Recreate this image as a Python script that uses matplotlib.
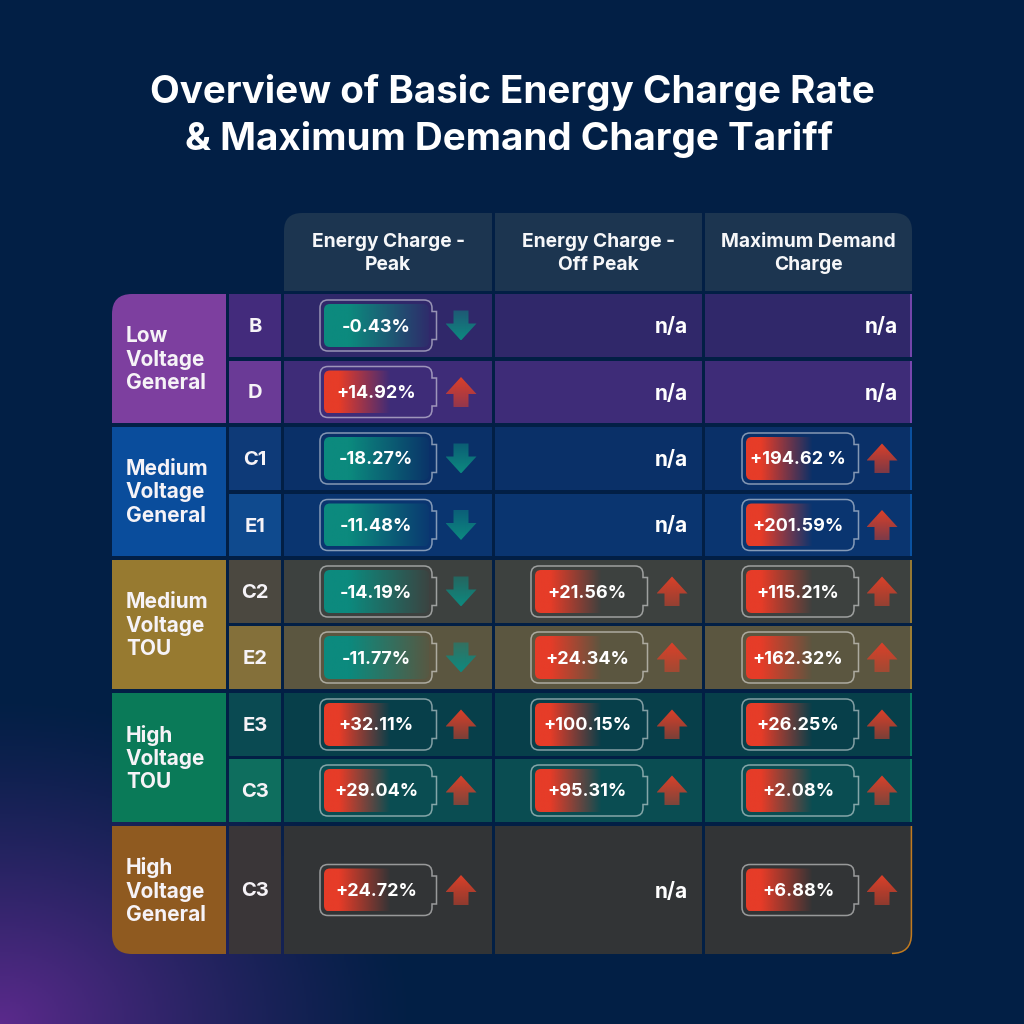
#!/usr/bin/env python3
import numpy as np
import matplotlib
matplotlib.use("Agg")  # headless
import matplotlib.pyplot as plt
from matplotlib.patches import PathPatch
from matplotlib.path import Path

# ---- data ----
title_lines = ["Overview of Basic Energy Charge Rate", "& Maximum Demand Charge Tariff"]
headers = ["Energy Charge -\nPeak", "Energy Charge -\nOff Peak", "Maximum Demand\nCharge"]
groups = ["Low\nVoltage\nGeneral", "Medium\nVoltage\nGeneral", "Medium\nVoltage\nTOU", "High\nVoltage\nTOU", "High\nVoltage\nGeneral"]
group_spans = [2, 2, 2, 2, 1]
tariffs = ["B", "D", "C1", "E1", "C2", "E2", "E3", "C3", "C3"]
peak = ["-0.43%", "+14.92%", "-18.27%", "-11.48%", "-14.19%", "-11.77%", "+32.11%", "+29.04%", "+24.72%"]
off_peak = ["n/a", "n/a", "n/a", "n/a", "+21.56%", "+24.34%", "+100.15%", "+95.31%", "n/a"]
demand = ["n/a", "n/a", "+194.62 %", "+201.59%", "+115.21%", "+162.32%", "+26.25%", "+2.08%", "+6.88%"]

# ---- colours ----
BG = "#021f45"
HEADER = "#1c3550"
GROUP_COL = ["#7d3f9f", "#0a4d9c", "#977a30", "#0a7a58", "#8f5a20"]
TYPE_COL = ["#432b7c", "#6a3a96", "#0e3a78", "#0f4a8e", "#4b4840", "#84703a", "#0a4a52", "#0e6e5e", "#3a3638"]
CELL_COL = ["#30286a", "#3e2c78", "#0a3068", "#0a3570", "#3d413f", "#5b5640", "#073f4a", "#0a4d52", "#323436"]
EDGE_COL = ["#8a4fc0", "#8a4fc0", "#0a5bb0", "#0a5bb0", "#b08a30", "#b08a30", "#0a8a68", "#0a8a68", "#c07a20"]
RED = "#e63c28"
TEAL = "#0c8a7e"
WHITE = "#ffffff"
FONT = "Inter"

# ---- layout (pixels) ----
row_top = [294, 361, 427, 494, 560, 626, 693, 759, 826]
row_bot = [357, 423, 490, 556, 623, 689, 756, 822, 954]
col_x = [(284, 492), (495, 702), (705, 912)]
batt_x = [320, 531, 742]
arrow_x = [461, 672, 882]
na_x = [688, 688, 898]
TEXT_DY = 1.5  # Inter sits a bit high with va=center

fig = plt.figure(figsize=(10.24, 10.24), dpi=100)
ax = fig.add_axes([0, 0, 1, 1])
ax.set_xlim(0, 1024)
ax.set_ylim(1024, 0)
ax.axis("off")


def rgba_grad(color, alpha, horizontal=True):
    c = matplotlib.colors.to_rgb(color)
    n = len(alpha)
    img = np.zeros((1, n, 4) if horizontal else (n, 1, 4))
    img[..., 0], img[..., 1], img[..., 2] = c
    img[..., 3] = alpha if horizontal else alpha[:, None]
    return img


def round_path(x0, y0, x1, y1, tl=0, tr=0, br=0, bl=0):
    v = [(x0 + tl, y0), (x1 - tr, y0), (x1, y0), (x1, y0 + tr), (x1, y1 - br), (x1, y1), (x1 - br, y1),
         (x0 + bl, y1), (x0, y1), (x0, y1 - bl), (x0, y0 + tl), (x0, y0), (x0 + tl, y0), (x0 + tl, y0)]
    c = [Path.MOVETO, Path.LINETO, Path.CURVE3, Path.CURVE3, Path.LINETO, Path.CURVE3, Path.CURVE3,
         Path.LINETO, Path.CURVE3, Path.CURVE3, Path.LINETO, Path.CURVE3, Path.CURVE3, Path.CLOSEPOLY]
    return Path(v, c)


def box(x0, y0, x1, y1, color, **corners):
    p = PathPatch(round_path(x0, y0, x1, y1, **corners), fc=color, ec="none", lw=0)
    ax.add_patch(p)
    return p


def battery(x, cy, label):
    up = label.startswith("+")
    top, bot = cy - 25.5, cy + 25.5
    right = x + 112
    # outline with the little nub on the right
    v = [(x + 8, top), (right - 8, top), (right, top), (right, top + 8), (right, cy - 14), (right + 4.5, cy - 14),
         (right + 4.5, cy + 14), (right, cy + 14), (right, bot - 8), (right, bot), (right - 8, bot),
         (x + 8, bot), (x, bot), (x, bot - 8), (x, top + 8), (x, top), (x + 8, top), (x + 8, top)]
    c = [Path.MOVETO, Path.LINETO, Path.CURVE3, Path.CURVE3, Path.LINETO, Path.LINETO, Path.LINETO, Path.LINETO,
         Path.LINETO, Path.CURVE3, Path.CURVE3, Path.LINETO, Path.CURVE3, Path.CURVE3, Path.LINETO, Path.CURVE3,
         Path.CURVE3, Path.CLOSEPOLY]
    ax.add_patch(PathPatch(Path(v, c), fc="none", ec=(1, 1, 1, 0.5), lw=1.1))
    # fill fades out to the right, red fades sooner than teal
    x0, x1 = x + 4, right - 3
    t = np.linspace(0, 1, 200)
    if up:
        alpha = np.clip(1.3 - 2.05 * t, 0, 1)
        img = rgba_grad(RED, alpha)
    else:
        alpha = np.clip(1.3 - 1.25 * t, 0, 1)
        img = rgba_grad(TEAL, alpha)
    im = ax.imshow(img, extent=(x0, x1, bot - 4, top + 4), aspect="auto", zorder=2)
    clip = PathPatch(round_path(x0, top + 4, x1, bot - 4, tl=6, tr=6, br=6, bl=6), fc="none", ec="none")
    ax.add_patch(clip)
    im.set_clip_path(clip)
    ax.text(x + 56, cy + TEXT_DY, label, color=WHITE, fontsize=13, fontweight="bold", family=FONT,
            ha="center", va="center", zorder=3)


def arrow(cx, cy, up):
    sgn = -1 if up else 1
    w, sw = 15.5, 7.5
    # tip, wing, notch, foot ...
    wing = cy - sgn * 2
    ys = [cy + sgn * 15, wing, wing, cy - sgn * 15, cy - sgn * 15, wing, wing]
    xs = [cx, cx + w, cx + sw, cx + sw, cx - sw, cx - sw, cx - w]
    clip = plt.Polygon(list(zip(xs, ys)), fc="none", ec="none")
    ax.add_patch(clip)
    t = np.linspace(0, 1, 60)
    if up:
        img = rgba_grad("#dc4029", np.clip(1.0 - 0.45 * t, 0, 1), horizontal=False)
    else:
        img = rgba_grad("#0d8a80", np.clip(0.5 + 0.5 * t, 0, 1), horizontal=False)
    im = ax.imshow(img, extent=(cx - w, cx + w, cy + 15, cy - 15), aspect="auto", zorder=2)
    im.set_clip_path(clip)


# background with the purple glow in the bottom left corner
yy, xx = np.mgrid[0:1024:512j, 0:1024:512j]
glow = np.clip(1 - np.hypot(xx / 420, (1024 - yy) / 330), 0, 1) ** 1.3
base = np.array(matplotlib.colors.to_rgb(BG))
purple = np.array(matplotlib.colors.to_rgb("#5b2a8c"))
bg_img = base[None, None, :] + (purple - base)[None, None, :] * glow[..., None]
ax.imshow(bg_img, extent=(0, 1024, 1024, 0), aspect="auto", zorder=0)

# title
for line, x, y in zip(title_lines, [512.5, 509], [92.5, 139.5]):
    ax.text(x, y, line, color=WHITE, fontsize=27.8, fontweight="bold", family=FONT, ha="center", va="center")

# header row
for i, ((x0, x1), label) in enumerate(zip(col_x, headers)):
    box(x0, 213, x1, 291, HEADER, tl=18 if i == 0 else 0, tr=18 if i == 2 else 0)
    ax.text((x0 + x1) / 2, 253.5, label, color="#f6f7f9", fontsize=13.8, fontweight="bold", family=FONT,
            ha="center", va="center", linespacing=1.42)

# group column
r = 0
for i, (name, span) in enumerate(zip(groups, group_spans)):
    top, bot = row_top[r], row_bot[r + span - 1]
    box(112, top, 226, bot, GROUP_COL[i], tl=20 if i == 0 else 0, bl=20 if i == len(groups) - 1 else 0)
    ax.text(126, (top + bot) / 2 + 1, name, color="#f6f3f7", fontsize=15, fontweight="bold", family=FONT,
            ha="left", va="center", linespacing=1.2)
    r += span

# tariff rows
columns = [peak, off_peak, demand]
for i, tariff in enumerate(tariffs):
    top, bot = row_top[i], row_bot[i]
    cy = (top + bot) / 2
    box(229, top, 281, bot, TYPE_COL[i])
    ax.text(255, cy + TEXT_DY, tariff, color="#f6f3f7", fontsize=14.5, fontweight="bold", family=FONT,
            ha="center", va="center")
    for j, (x0, x1) in enumerate(col_x):
        last = i == len(tariffs) - 1 and j == 2
        box(x0, top, x1, bot, CELL_COL[i], br=20 if last else 0)
        if j == 2:
            # thin coloured edge, follows the rounded corner on the last row
            if last:
                edge = Path([(x1 - 0.6, top), (x1 - 0.6, bot - 20), (x1 - 0.6, bot - 0.6), (x1 - 20, bot - 0.6)],
                            [Path.MOVETO, Path.LINETO, Path.CURVE3, Path.CURVE3])
            else:
                edge = Path([(x1 - 0.6, top), (x1 - 0.6, bot)])
            ax.add_patch(PathPatch(edge, fc="none", ec=EDGE_COL[i], lw=1.1, capstyle="butt"))
        label = columns[j][i]
        if label == "n/a":
            ax.text(na_x[j], cy + TEXT_DY, label, color=WHITE, fontsize=15, fontweight="bold", family=FONT,
                    ha="right", va="center")
        else:
            battery(batt_x[j], cy, label)
            arrow(arrow_x[j], cy, label.startswith("+"))

ax.set_xlim(0, 1024)
ax.set_ylim(1024, 0)
fig.savefig("out.png", dpi=100, facecolor=BG)
